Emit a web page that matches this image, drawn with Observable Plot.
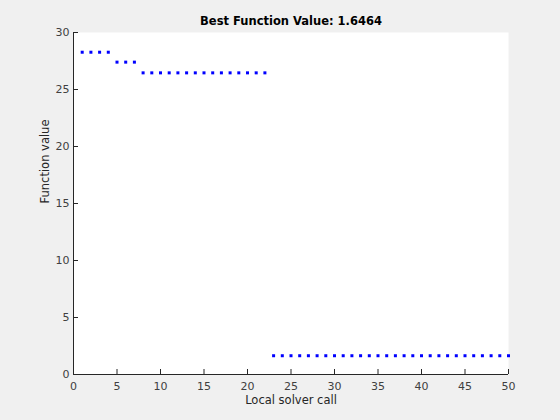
<!DOCTYPE html>
<html>
<head>
<meta charset="utf-8">
<script src="https://cdn.jsdelivr.net/npm/d3@7"></script>
<script src="https://cdn.jsdelivr.net/npm/@observablehq/plot@0.6"></script>
<style>
  html, body { margin: 0; padding: 0; background: #f0f0f0; }
  #chart { width: 560px; height: 420px; }
</style>
</head>
<body>
<div id="chart"></div>
<script>
const titleText = "Best Function Value: 1.6464";
const xLabel = "Local solver call";
const yLabel = "Function value";
const calls = d3.range(1, 51);
const values = [
  28.27, 28.27, 28.27, 28.27,
  27.40, 27.40, 27.40,
  26.46, 26.46, 26.46, 26.46, 26.46, 26.46, 26.46, 26.46, 26.46, 26.46, 26.46, 26.46, 26.46, 26.46, 26.46,
  1.6464, 1.6464, 1.6464, 1.6464, 1.6464, 1.6464, 1.6464, 1.6464, 1.6464, 1.6464,
  1.6464, 1.6464, 1.6464, 1.6464, 1.6464, 1.6464, 1.6464, 1.6464, 1.6464, 1.6464,
  1.6464, 1.6464, 1.6464, 1.6464, 1.6464, 1.6464, 1.6464, 1.6464
];
const xTicks = d3.range(0, 51, 5);
const yTicks = d3.range(0, 31, 5);
const data = calls.map((c, i) => ({call: c, value: values[i]}));

const chart = Plot.plot({
  width: 560,
  height: 420,
  marginLeft: 73,
  marginRight: 52,
  marginTop: 32,
  marginBottom: 46,
  style: {background: "#f0f0f0", fontFamily: "DejaVu Sans, sans-serif", fontSize: "11px", color: "#262626"},
  x: {domain: [0, 50]},
  y: {domain: [0, 30]},
  marks: [
    Plot.frame({fill: "white", stroke: null}),
    Plot.axisX({ticks: xTicks, tickSize: -5, tickPadding: 13, label: null, stroke: "#262626", fill: "#404040"}),
    Plot.axisY({ticks: yTicks, tickSize: -5, tickPadding: 9, label: null, stroke: "#262626", fill: "#404040"}),
    Plot.ruleY([0], {stroke: "#262626"}),
    Plot.ruleX([0], {stroke: "#262626"}),
    Plot.dot(data, {x: "call", y: "value", symbol: "square", r: 1.7, fill: "blue", stroke: null}),
    Plot.text([titleText], {frameAnchor: "top", lineAnchor: "middle", dy: -11, fontWeight: "bold", fontSize: 11.5, fill: "black"}),
    Plot.text([xLabel], {frameAnchor: "bottom", lineAnchor: "middle", dy: 26, fontSize: 11.5, fill: "#262626"}),
    Plot.text([yLabel], {frameAnchor: "left", lineAnchor: "middle", dx: -28, rotate: -90, fontSize: 11.5, fill: "#262626"})
  ]
});
document.getElementById("chart").appendChild(chart);
</script>
</body>
</html>
